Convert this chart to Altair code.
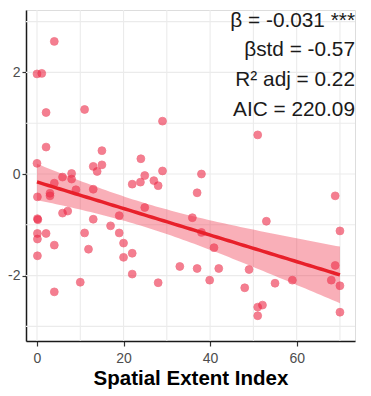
import altair as alt
import numpy as np
import pandas as pd

# Scatter data
x_vals = [4.0, 0.0, 1.1, 2.1, 11.0, 29.0, 2.1, 15.0, 24.0, 0.0,
          13.0, 15.0, 13.9, 29.0, 24.9, 8.0, 5.9, 8.0, 4.0, 27.0,
          23.9, 22.0, 28.0, 3.0, 3.0, 0.1, 9.0, 13.0, 24.9, 7.1,
          5.9, 0.1, 0.2, 13.0, 19.0, 17.0, 0.1, 2.1, 0.1, 11.0,
          19.0, 4.0, 20.0, 11.9, 22.0, 0.1, 20.0, 33.0, 22.0, 10.0,
          28.0, 4.0, 38.0, 51.0, 37.0, 35.9, 38.0, 40.9, 53.0, 68.9,
          70.0, 37.0, 42.0, 49.0, 39.9, 48.0, 55.0, 59.0, 68.9, 68.0,
          70.0, 51.0, 52.1, 51.0, 70.0]
y_vals = [2.61, 1.97, 1.98, 1.21, 1.27, 1.04, 0.53, 0.46, 0.30, 0.21,
          0.15, 0.18, 0.05, 0.06, -0.03, 0.01, -0.06, -0.10, -0.18, -0.13,
          -0.16, -0.20, -0.23, -0.38, -0.43, -0.45, -0.31, -0.30, -0.66, -0.73,
          -0.77, -0.88, -0.90, -0.89, -0.82, -1.02, -1.17, -1.17, -1.28, -1.16,
          -1.16, -1.40, -1.36, -1.48, -1.56, -1.61, -1.64, -1.82, -1.97, -2.13,
          -2.14, -2.32, 0.00, 0.77, -0.37, -0.86, -1.15, -1.45, -0.93, -0.43,
          -1.12, -1.86, -1.86, -1.88, -2.09, -2.24, -2.15, -2.09, -1.80, -2.09,
          -2.20, -2.62, -2.58, -2.79, -2.72]

x_grid = [0, 10, 20, 30, 40, 50, 60, 70]
y_grid = [-3, -2, -1, 0, 1, 2, 3]
x_ticks = [0, 20, 40, 60]
y_ticks = [-2, 0, 2]

stats_lines = ["β = -0.031 ***", "βstd = -0.57", "R² adj = 0.22", "AIC = 220.09"]

pts = pd.DataFrame({"x": x_vals, "y": y_vals})

# OLS fit with 95% confidence band
xa = np.array(x_vals)
ya = np.array(y_vals)
n = len(xa)
slope, intercept = np.polyfit(xa, ya, 1)
resid = ya - (intercept + slope * xa)
s = np.sqrt(np.sum(resid ** 2) / (n - 2))
sxx = np.sum((xa - xa.mean()) ** 2)
tq = 1.993
xs = np.linspace(xa.min(), xa.max(), 80)
fit = intercept + slope * xs
se = s * np.sqrt(1.0 / n + (xs - xa.mean()) ** 2 / sxx)
band = pd.DataFrame({"x": xs, "fit": fit, "lo": fit - tq * se, "hi": fit + tq * se})

W, H = 329, 331
xscale = alt.Scale(domain=[-2.54, 73.48], nice=False, zero=False)
yscale = alt.Scale(domain=[-3.287, 3.228], nice=False, zero=False)

xaxis = alt.Axis(values=x_ticks, title="Spatial Extent Index", grid=False,
                 domainColor="#1a1a1a", domainWidth=1.5, tickColor="#333333",
                 tickSize=5, tickWidth=1.2, labelPadding=5,
                 labelFontSize=14, labelColor="#4D4D4D", labelFont="Liberation Sans",
                 titleFont="Liberation Sans", titleFontSize=20.5, titleFontWeight="bold",
                 titleColor="#000000", titlePadding=3, format="d")
yaxis = alt.Axis(values=y_ticks, title=None, grid=False,
                 domainColor="#1a1a1a", domainWidth=1.5, tickColor="#333333",
                 tickSize=4, tickWidth=1.2, labelPadding=2,
                 labelFontSize=14, labelColor="#4D4D4D", labelFont="Liberation Sans",
                 labelExpr="datum.value < 0 ? '-' + abs(datum.value) : '' + datum.value")

grid_color = "#EBEBEB"
vgrid = alt.Chart(pd.DataFrame({"g": x_grid})).mark_rule(color=grid_color, strokeWidth=1.1).encode(
    x=alt.X("g:Q", scale=xscale, axis=xaxis))
hgrid = alt.Chart(pd.DataFrame({"g": y_grid})).mark_rule(color=grid_color, strokeWidth=1.1).encode(
    y=alt.Y("g:Q", scale=yscale, axis=yaxis))

points = alt.Chart(pts).mark_circle(size=62, color="#EE2A48", opacity=0.6,
                                    stroke="#E8203C", strokeWidth=0.8).encode(
    x=alt.X("x:Q", scale=xscale, axis=xaxis),
    y=alt.Y("y:Q", scale=yscale, axis=yaxis),
)

ribbon = alt.Chart(band).mark_area(color="#EE2C45", opacity=0.38).encode(
    x=alt.X("x:Q", scale=xscale, axis=xaxis), y=alt.Y("lo:Q", scale=yscale, axis=yaxis), y2="hi:Q")
line = alt.Chart(band).mark_line(color="#E8202A", strokeWidth=3.5).encode(
    x=alt.X("x:Q", scale=xscale, axis=xaxis), y=alt.Y("fit:Q", scale=yscale, axis=yaxis))

ann = pd.DataFrame({"label": stats_lines, "py": [16.5, 46.2, 75.9, 105.6]})
text = alt.Chart(ann).mark_text(align="right", baseline="alphabetic", fontSize=20.8,
                                font="Liberation Sans", color="#1a1a1a").encode(
    x=alt.value(W), y=alt.Y("py:Q", scale=None), text="label:N")

chart = alt.layer(vgrid, hgrid, points, ribbon, line, text).properties(
    width=W, height=H,
    autosize=alt.AutoSizeParams(type="none"),
    padding={"left": 18, "top": 2, "right": 8, "bottom": 51},
).configure_view(stroke=None).configure(background="white")

chart.save("out.html", embed_options={"renderer": "svg", "actions": False})
